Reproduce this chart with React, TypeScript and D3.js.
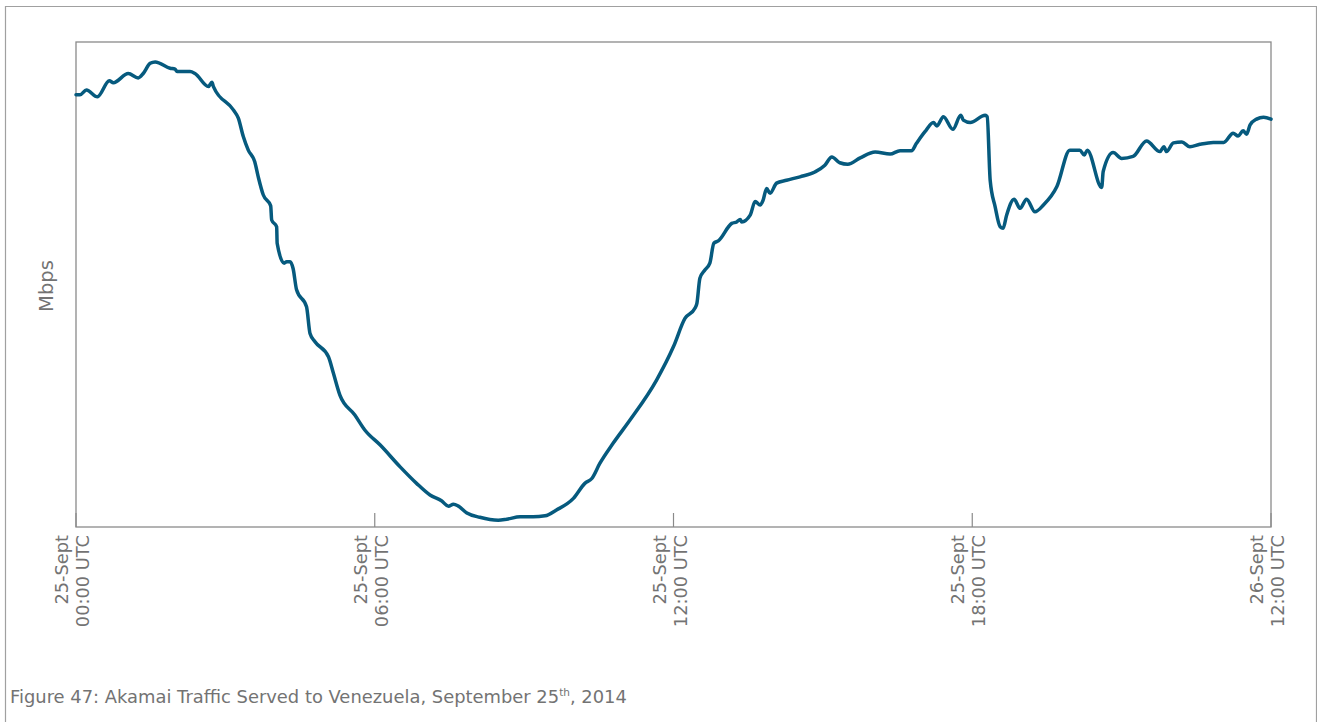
import React from "react";
import * as d3 from "d3";

const hours = [0, 0.08, 0.21, 0.43, 0.67, 0.75, 1.05, 1.25, 1.35, 1.49, 1.59, 1.89, 1.99, 2.03, 2.29, 2.39, 2.66, 2.73, 2.76, 3.16, 3.26, 3.36, 3.46, 3.59, 3.66, 3.76, 3.91, 3.93, 4.03, 4.04, 4.18, 4.23, 4.3, 4.36, 4.43, 4.63, 4.7, 4.8, 5.07, 5.17, 5.3, 5.6, 5.8, 6.11, 6.51, 6.84, 7.11, 7.34, 7.48, 7.58, 7.68, 7.85, 8.11, 8.48, 8.65, 8.92, 9.18, 9.42, 9.65, 9.99, 10.22, 10.36, 10.52, 10.79, 11.13, 11.66, 12.0, 12.23, 12.43, 12.47, 12.53, 12.63, 12.73, 12.81, 12.9, 13.17, 13.27, 13.34, 13.37, 13.54, 13.64, 13.74, 13.8, 13.87, 13.94, 14.07, 14.27, 14.54, 14.84, 15.04, 15.18, 15.34, 15.5, 15.75, 16.05, 16.35, 16.55, 16.78, 16.88, 17.05, 17.22, 17.29, 17.42, 17.61, 17.77, 17.82, 17.96, 18.26, 18.3, 18.36, 18.46, 18.56, 18.62, 18.69, 18.84, 18.96, 19.09, 19.26, 19.43, 19.7, 19.96, 20.16, 20.25, 20.31, 20.6, 20.63, 20.83, 21.0, 21.23, 21.5, 21.77, 21.85, 21.9, 22.04, 22.21, 22.37, 22.57, 22.84, 23.05, 23.24, 23.34, 23.44, 23.51, 23.58, 23.71, 23.85, 24.0];

const mbps = [89.1, 89.1, 90.1, 88.7, 92.0, 91.6, 93.5, 92.6, 93.5, 95.6, 95.9, 94.6, 94.4, 93.9, 93.9, 93.5, 90.8, 91.7, 90.8, 86.0, 84.3, 80.5, 77.7, 75.3, 72.2, 68.5, 66.2, 63.3, 61.9, 58.5, 54.4, 54.7, 54.7, 53.3, 48.9, 45.4, 39.9, 38.2, 35.1, 31.7, 27.2, 23.1, 20.0, 16.9, 12.4, 9.0, 6.6, 5.4, 4.3, 4.7, 4.3, 2.9, 2.0, 1.4, 1.6, 2.1, 2.1, 2.3, 3.5, 5.9, 9.0, 10.0, 13.1, 17.3, 22.1, 30.3, 37.2, 43.0, 45.1, 46.1, 51.3, 53.0, 54.4, 58.5, 59.0, 62.6, 62.9, 63.4, 62.9, 64.3, 67.1, 66.4, 67.4, 69.8, 68.8, 70.9, 71.5, 72.2, 73.2, 74.6, 76.3, 75.1, 74.8, 76.1, 77.3, 76.9, 77.6, 77.6, 79.1, 81.5, 83.4, 82.7, 84.6, 82.0, 84.9, 83.9, 83.4, 84.9, 84.6, 71.5, 66.0, 61.9, 61.6, 64.3, 67.6, 65.7, 67.6, 65.0, 66.4, 70.2, 77.7, 77.7, 76.7, 77.7, 70.0, 73.3, 77.2, 76.0, 76.4, 79.6, 77.4, 78.4, 77.4, 79.2, 79.4, 78.4, 78.9, 79.3, 79.3, 81.2, 80.6, 81.7, 81.0, 82.9, 84.1, 84.5, 84.1];

const tickHours = [0, 6, 12, 18, 24];
const tickLine1 = ["25-Sept", "25-Sept", "25-Sept", "25-Sept", "26-Sept"];
const tickLine2 = ["00:00 UTC", "06:00 UTC", "12:00 UTC", "18:00 UTC", "12:00 UTC"];

const yLabel = "Mbps";
const captionMain = "Figure 47: Akamai Traffic Served to Venezuela, September 25";
const captionSup = "th";
const captionEnd = ", 2014";

const W = 1317;
const H = 722;
const left = 76;
const right = 1271;
const top = 42;
const bottom = 527;
const font = "'DejaVu Sans', 'Open Sans', sans-serif";
const textColor = "#737373";
const axisColor = "#8a8a8a";

export default function App() {
  const x = d3.scaleLinear().domain([0, 24]).range([left, right]);
  const y = d3.scaleLinear().domain([0, 100]).range([bottom, top]);
  const data = hours.map((h, i) => ({ h, v: mbps[i] }));
  const line = d3
    .line<{ h: number; v: number }>()
    .x((d) => x(d.h))
    .y((d) => y(d.v))
    .curve(d3.curveMonotoneX);

  return (
    <svg
      width={W}
      height={H}
      style={{ position: "absolute", left: 0, top: 0, background: "#fff" }}
    >
      {/* outer frame (no bottom) */}
      <path
        d={`M5.5,${H} V6.5 H1316.5 V${H}`}
        fill="none"
        stroke="#a0a0a0"
        strokeWidth={1.2}
      />
      {/* plot frame */}
      <rect
        x={left}
        y={top}
        width={right - left}
        height={bottom - top}
        fill="none"
        stroke={axisColor}
        strokeWidth={1.3}
      />
      {/* ticks */}
      {tickHours.map((t, i) => (
        <g key={i}>
          <line
            x1={x(t)}
            x2={x(t)}
            y1={bottom}
            y2={bottom - 14}
            stroke={axisColor}
            strokeWidth={1.2}
          />
          <text
            transform={`translate(${x(t)},${535}) rotate(-90)`}
            textAnchor="end"
            fontFamily={font}
            fontWeight={400}
            fontSize={17.8}
            fill={textColor}
          >
            <tspan x={0} y={-8}>
              {tickLine1[i]}
            </tspan>
            <tspan x={0} y={13}>
              {tickLine2[i]}
            </tspan>
          </text>
        </g>
      ))}
      {/* data line */}
      <path
        d={line(data) || ""}
        fill="none"
        stroke="#065a7e"
        strokeWidth={3.5}
        strokeLinejoin="round"
        strokeLinecap="round"
      />
      {/* y label */}
      <text
        transform={`translate(53,286) rotate(-90)`}
        textAnchor="middle"
        fontFamily={font}
        fontWeight={400}
        fontSize={19.5}
        fill={textColor}
      >
        {yLabel}
      </text>
      {/* caption */}
      <text
        x={10}
        y={703}
        fontFamily={font}
        fontWeight={400}
        fontSize={17.9}
        fill={textColor}
      >
        {captionMain}
        <tspan fontSize={10.5} dy={-7}>
          {captionSup}
        </tspan>
        <tspan dy={7}>{captionEnd}</tspan>
      </text>
    </svg>
  );
}
